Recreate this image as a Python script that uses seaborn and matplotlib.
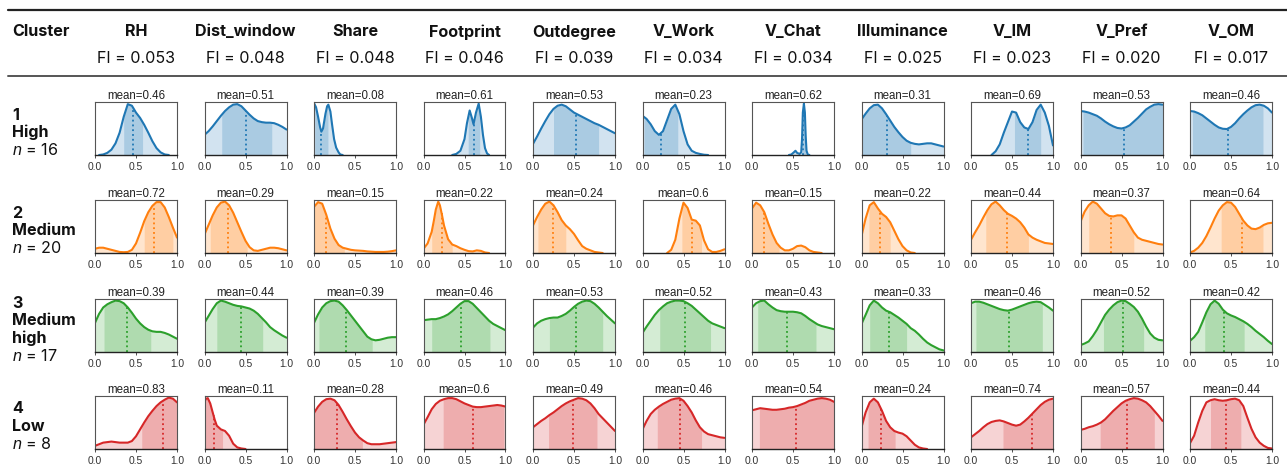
import numpy as np
import pandas as pd
import matplotlib
matplotlib.use("Agg")
import matplotlib.pyplot as plt
from matplotlib.lines import Line2D
import seaborn as sns

# ---------------- data ----------------
VARIABLES = ["RH", "Dist_window", "Share", "Footprint", "Outdegree", "V_Work",
             "V_Chat", "Illuminance", "V_IM", "V_Pref", "V_OM"]
FI = [0.053, 0.048, 0.048, 0.046, 0.039, 0.034, 0.034, 0.025, 0.023, 0.020, 0.017]

CLUSTER_IDS = ["1", "2", "3", "4"]
CLUSTER_NAMES = [["High"], ["Medium"], ["Medium", "high"], ["Low"]]
CLUSTER_N = [16, 20, 17, 8]
COLORS = ["#1f77b4", "#ff7f0e", "#2ca02c", "#d62728"]

# mean value per variable, clusters 1..4
MEANS = {
    "RH": [0.46, 0.72, 0.39, 0.83],
    "Dist_window": [0.51, 0.29, 0.44, 0.11],
    "Share": [0.08, 0.15, 0.39, 0.28],
    "Footprint": [0.61, 0.22, 0.46, 0.6],
    "Outdegree": [0.53, 0.24, 0.53, 0.49],
    "V_Work": [0.23, 0.6, 0.52, 0.46],
    "V_Chat": [0.62, 0.15, 0.43, 0.54],
    "Illuminance": [0.31, 0.22, 0.33, 0.24],
    "V_IM": [0.69, 0.44, 0.46, 0.74],
    "V_Pref": [0.53, 0.37, 0.52, 0.57],
    "V_OM": [0.46, 0.64, 0.42, 0.44],
}

# darker shaded interval (lo, hi) per variable, clusters 1..4
BANDS = {
    "RH": [(0.35, 0.58), (0.60, 0.95), (0.11, 0.68), (0.57, 1.0)],
    "Dist_window": [(0.21, 0.82), (0.07, 0.52), (0.15, 0.71), (0.01, 0.22)],
    "Share": [(0.01, 0.17), (0.0, 0.37), (0.06, 0.71), (0.0, 0.59)],
    "Footprint": [(0.545, 0.685), (0.10, 0.35), (0.10, 0.81), (0.24, 0.98)],
    "Outdegree": [(0.25, 0.80), (0.06, 0.40), (0.20, 0.85), (0.19, 0.78)],
    "V_Work": [(0.02, 0.43), (0.48, 0.72), (0.21, 0.83), (0.18, 0.72)],
    "V_Chat": [(0.61, 0.655), (0.0, 0.33), (0.07, 0.78), (0.09, 1.0)],
    "Illuminance": [(0.0, 0.60), (0.09, 0.35), (0.10, 0.55), (0.08, 0.41)],
    "V_IM": [(0.53, 0.85), (0.18, 0.70), (0.06, 0.87), (0.39, 1.0)],
    "V_Pref": [(0.03, 1.0), (0.10, 0.65), (0.28, 0.77), (0.24, 0.90)],
    "V_OM": [(0.03, 0.89), (0.38, 0.89), (0.18, 0.66), (0.25, 0.62)],
}

# relative density (fraction of panel height) on the grid 0, 0.05, ..., 1.0
GRID = [round(0.05 * k, 2) for k in range(21)]
DENS = {
    "RH": [
        [0, 0, 0.01, 0.04, 0.1, 0.22, 0.42, 0.72, 0.96, 0.93, 0.8, 0.7, 0.57, 0.42, 0.26, 0.13, 0.05, 0.01, 0, 0, 0],
        [0.08, 0.1, 0.1, 0.08, 0.06, 0.04, 0.02, 0.015, 0.02, 0.06, 0.18, 0.38, 0.6, 0.77, 0.89, 0.96, 0.96, 0.86, 0.68, 0.48, 0.29],
        [0.55, 0.72, 0.84, 0.9, 0.94, 0.97, 0.96, 0.92, 0.84, 0.74, 0.63, 0.54, 0.47, 0.42, 0.39, 0.38, 0.38, 0.36, 0.33, 0.29, 0.25],
        [0.06, 0.09, 0.12, 0.13, 0.14, 0.13, 0.12, 0.12, 0.12, 0.15, 0.24, 0.37, 0.5, 0.62, 0.72, 0.81, 0.88, 0.93, 0.97, 0.95, 0.88],
    ],
    "Dist_window": [
        [0.38, 0.45, 0.54, 0.64, 0.74, 0.83, 0.9, 0.95, 0.96, 0.92, 0.84, 0.76, 0.69, 0.64, 0.62, 0.61, 0.61, 0.6, 0.57, 0.53, 0.48],
        [0.35, 0.53, 0.71, 0.86, 0.95, 0.97, 0.9, 0.76, 0.58, 0.4, 0.23, 0.11, 0.05, 0.04, 0.06, 0.08, 0.1, 0.1, 0.09, 0.07, 0.05],
        [0.55, 0.68, 0.81, 0.92, 0.97, 0.95, 0.92, 0.89, 0.87, 0.86, 0.84, 0.82, 0.78, 0.72, 0.64, 0.56, 0.47, 0.41, 0.36, 0.31, 0.27],
        [0.9, 0.95, 0.96, 0.86, 0.69, 0.55, 0.44, 0.37, 0.34, 0.25, 0.1, 0.03, 0.01, 0],
    ],
    "Share": [
        [0.98, 0.9, 0.72, 0.52, 0.44, 0.5, 0.78, 0.92, 0.95, 0.82, 0.58, 0.3, 0.14, 0.05, 0.01, 0],
        [0.87, 0.96, 0.93, 0.72, 0.46, 0.27, 0.15, 0.1, 0.08, 0.06, 0.05, 0.045, 0.04, 0.03, 0.025, 0.02, 0.02, 0.02, 0.025, 0.035, 0.05],
        [0.55, 0.71, 0.84, 0.92, 0.96, 0.97, 0.95, 0.88, 0.79, 0.69, 0.59, 0.49, 0.39, 0.29, 0.24, 0.22, 0.23, 0.25, 0.27, 0.28, 0.28],
        [0.68, 0.8, 0.89, 0.94, 0.95, 0.92, 0.83, 0.7, 0.56, 0.43, 0.31, 0.22, 0.16, 0.11, 0.09, 0.09, 0.09, 0.1, 0.11, 0.12, 0.13],
    ],
    "Footprint": [
        [0, 0.02, 0.08, 0.3, 0.6, 0.84, 0.7, 0.58, 0.8, 0.97, 0.72, 0.38, 0.13, 0.03, 0],
        [0.08, 0.18, 0.4, 0.6, 0.82, 0.97, 0.9, 0.72, 0.52, 0.26, 0.16, 0.13, 0.09, 0.06, 0.035, 0.03, 0.05, 0.04, 0.01, 0],
        [0.6, 0.61, 0.62, 0.62, 0.64, 0.67, 0.71, 0.77, 0.84, 0.91, 0.96, 0.96, 0.91, 0.83, 0.75, 0.67, 0.59, 0.53, 0.49, 0.45, 0.41],
        [0.46, 0.6, 0.75, 0.85, 0.91, 0.94, 0.96, 0.96, 0.94, 0.9, 0.86, 0.83, 0.8, 0.79, 0.79, 0.8, 0.81, 0.82, 0.83, 0.82, 0.8],
    ],
    "Outdegree": [
        [0.21, 0.35, 0.5, 0.64, 0.77, 0.87, 0.93, 0.95, 0.92, 0.86, 0.8, 0.76, 0.72, 0.68, 0.64, 0.6, 0.57, 0.53, 0.49, 0.45, 0.41],
        [0.52, 0.68, 0.82, 0.93, 0.97, 0.9, 0.77, 0.62, 0.52, 0.45, 0.36, 0.24, 0.13, 0.08, 0.05, 0.02, 0.01, 0, 0, 0, 0],
        [0.46, 0.54, 0.59, 0.62, 0.64, 0.65, 0.65, 0.68, 0.72, 0.78, 0.85, 0.91, 0.95, 0.97, 0.96, 0.91, 0.84, 0.76, 0.68, 0.61, 0.54],
        [0.41, 0.47, 0.53, 0.58, 0.64, 0.69, 0.75, 0.81, 0.86, 0.9, 0.93, 0.96, 0.95, 0.92, 0.86, 0.77, 0.66, 0.58, 0.5, 0.42, 0.34],
    ],
    "V_Work": [
        [0.74, 0.68, 0.58, 0.45, 0.38, 0.45, 0.66, 0.87, 0.95, 0.77, 0.45, 0.2, 0.08, 0.04, 0.02, 0.005, 0, 0, 0, 0, 0],
        [0, 0, 0, 0, 0, 0, 0, 0.06, 0.25, 0.65, 0.95, 0.85, 0.63, 0.61, 0.52, 0.24, 0.07, 0.02, 0.02, 0.04, 0.07],
        [0.36, 0.48, 0.59, 0.7, 0.79, 0.86, 0.92, 0.95, 0.97, 0.97, 0.96, 0.92, 0.87, 0.8, 0.73, 0.66, 0.59, 0.54, 0.51, 0.48, 0.45],
        [0.37, 0.53, 0.66, 0.74, 0.8, 0.85, 0.89, 0.93, 0.95, 0.96, 0.91, 0.81, 0.69, 0.54, 0.41, 0.33, 0.28, 0.26, 0.24, 0.22, 0.21],
    ],
    "V_Chat": [
        [0, 0.01, 0.05, 0.08, 0.04, 0.02, 0.05, 0.3, 0.8, 0.97, 0.8, 0.35, 0.08, 0.01, 0],
        [0.84, 0.95, 0.9, 0.77, 0.55, 0.35, 0.19, 0.1, 0.05, 0.05, 0.08, 0.13, 0.14, 0.11, 0.05, 0.02, 0.01, 0, 0, 0, 0],
        [0.84, 0.92, 0.96, 0.97, 0.9, 0.84, 0.79, 0.77, 0.76, 0.76, 0.76, 0.75, 0.73, 0.68, 0.62, 0.57, 0.52, 0.49, 0.47, 0.45, 0.43],
        [0.73, 0.75, 0.77, 0.76, 0.75, 0.74, 0.74, 0.75, 0.76, 0.78, 0.79, 0.81, 0.84, 0.87, 0.91, 0.93, 0.95, 0.96, 0.95, 0.93, 0.89],
    ],
    "Illuminance": [
        [0.67, 0.78, 0.88, 0.94, 0.95, 0.88, 0.77, 0.65, 0.53, 0.43, 0.34, 0.27, 0.23, 0.21, 0.2, 0.21, 0.22, 0.22, 0.2, 0.18, 0.16],
        [0.32, 0.65, 0.9, 0.96, 0.84, 0.74, 0.68, 0.58, 0.42, 0.26, 0.13, 0.05, 0.01, 0, 0, 0, 0, 0, 0, 0, 0],
        [0.53, 0.7, 0.88, 0.97, 0.92, 0.84, 0.78, 0.75, 0.7, 0.65, 0.59, 0.53, 0.45, 0.4, 0.33, 0.25, 0.18, 0.13, 0.09, 0.05, 0.03],
        [0.41, 0.69, 0.88, 0.95, 0.88, 0.72, 0.53, 0.41, 0.34, 0.31, 0.29, 0.24, 0.16, 0.08, 0.03, 0.01, 0, 0, 0, 0, 0],
    ],
    "V_IM": [
        [0, 0, 0, 0, 0, 0, 0.07, 0.2, 0.42, 0.62, 0.82, 0.8, 0.62, 0.52, 0.49, 0.62, 0.85, 0.95, 0.8, 0.55, 0.18],
        [0.25, 0.39, 0.52, 0.67, 0.81, 0.92, 0.97, 0.9, 0.81, 0.74, 0.7, 0.65, 0.58, 0.48, 0.35, 0.29, 0.25, 0.22, 0.19, 0.18, 0.17],
        [0.92, 0.95, 0.95, 0.93, 0.9, 0.87, 0.84, 0.81, 0.79, 0.78, 0.8, 0.83, 0.86, 0.89, 0.92, 0.94, 0.95, 0.94, 0.89, 0.84, 0.78],
        [0.22, 0.28, 0.34, 0.41, 0.47, 0.51, 0.53, 0.54, 0.52, 0.49, 0.46, 0.44, 0.46, 0.52, 0.59, 0.67, 0.75, 0.83, 0.89, 0.93, 0.95],
    ],
    "V_Pref": [
        [0.83, 0.82, 0.8, 0.77, 0.74, 0.69, 0.63, 0.58, 0.54, 0.51, 0.5, 0.52, 0.56, 0.63, 0.7, 0.78, 0.86, 0.91, 0.95, 0.96, 0.95],
        [0.59, 0.78, 0.9, 0.97, 0.93, 0.84, 0.75, 0.7, 0.69, 0.71, 0.71, 0.65, 0.52, 0.39, 0.29, 0.25, 0.23, 0.21, 0.19, 0.17, 0.16],
        [0.13, 0.16, 0.2, 0.3, 0.42, 0.56, 0.7, 0.8, 0.88, 0.94, 0.97, 0.96, 0.91, 0.85, 0.76, 0.63, 0.48, 0.35, 0.27, 0.23, 0.22],
        [0.36, 0.38, 0.41, 0.43, 0.46, 0.5, 0.56, 0.64, 0.72, 0.79, 0.86, 0.91, 0.94, 0.96, 0.95, 0.92, 0.88, 0.81, 0.72, 0.63, 0.53],
    ],
    "V_OM": [
        [0.83, 0.82, 0.79, 0.75, 0.69, 0.63, 0.57, 0.52, 0.495, 0.49, 0.53, 0.6, 0.69, 0.77, 0.84, 0.9, 0.94, 0.95, 0.93, 0.88, 0.8],
        [0.01, 0.04, 0.1, 0.19, 0.32, 0.48, 0.65, 0.8, 0.9, 0.96, 0.95, 0.87, 0.74, 0.61, 0.52, 0.46, 0.45, 0.48, 0.53, 0.56, 0.57],
        [0.21, 0.28, 0.38, 0.56, 0.75, 0.9, 0.97, 0.91, 0.8, 0.73, 0.69, 0.66, 0.62, 0.58, 0.53, 0.47, 0.4, 0.34, 0.28, 0.21, 0.15],
        [0.11, 0.25, 0.5, 0.72, 0.88, 0.92, 0.94, 0.92, 0.91, 0.92, 0.94, 0.95, 0.92, 0.81, 0.59, 0.38, 0.22, 0.12, 0.06, 0.02, 0.01],
    ],
}

# panels whose curve is sampled on its own x positions (narrow peaks)
XS = {
    ("Share", 0): [0, 0.025, 0.05, 0.075, 0.09, 0.11, 0.14, 0.16, 0.175, 0.2, 0.22, 0.245, 0.27, 0.3, 0.32, 0.35],
    ("Footprint", 0): [0.35, 0.4, 0.45, 0.5, 0.53, 0.563, 0.59, 0.61, 0.64, 0.673, 0.7, 0.725, 0.75, 0.775, 0.8],
    ("Footprint", 1): [0, 0.05, 0.1, 0.125, 0.15, 0.18, 0.2, 0.225, 0.25, 0.3, 0.35, 0.4, 0.45, 0.5, 0.55, 0.6, 0.65, 0.7, 0.75, 0.8],
    ("V_Chat", 0): [0.45, 0.48, 0.51, 0.53, 0.55, 0.58, 0.6, 0.61, 0.62, 0.633, 0.645, 0.655, 0.665, 0.68, 0.7],
    ("Dist_window", 3): [0, 0.02, 0.04, 0.07, 0.1, 0.125, 0.15, 0.2, 0.25, 0.3, 0.35, 0.4, 0.45, 0.5],
}

# ---------------- figure ----------------
sns.set_theme(style="white")
plt.rcParams["font.family"] = ["Inter", "DejaVu Sans"]
plt.rcParams["mathtext.fontset"] = "custom"
plt.rcParams["mathtext.it"] = "Liberation Sans:italic"
plt.rcParams["mathtext.rm"] = "Inter"

W, H = 1287, 477
fig = plt.figure(figsize=(W / 100, H / 100), dpi=100)
fig.patch.set_facecolor("white")

def fx(px):
    return px / W

def fy(py):
    return 1 - py / H

PANEL_W, PANEL_H = 82, 53
COL_LEFT0, COL_STEP = 95, 109.5
ROW_TOPS = [103, 201, 300, 397]
HEAD_FS = 11.6

# header rules
fig.add_artist(Line2D([fx(8), 1.0], [fy(11), fy(11)], color="#222222", lw=1.6))
fig.add_artist(Line2D([fx(8), 1.0], [fy(77), fy(77)], color="#555555", lw=1.4))

fig.text(fx(12), fy(32), "Cluster", fontsize=HEAD_FS, fontweight="bold", ha="left", va="center", color="#111111")
for j, (var, fi) in enumerate(zip(VARIABLES, FI)):
    cx = COL_LEFT0 + COL_STEP * j + PANEL_W / 2
    fig.text(fx(cx), fy(32), var, fontsize=HEAD_FS, fontweight="bold", ha="center", va="center", color="#111111")
    fig.text(fx(cx), fy(58.5), f"FI = {fi:.3f}", fontsize=HEAD_FS, ha="center", va="center", color="#111111")

# row labels
LINE_STEP = 17.5
for i in range(4):
    lines = [(CLUSTER_IDS[i], "bold")] + [(t, "bold") for t in CLUSTER_NAMES[i]] + \
            [(f"$n$ = {CLUSTER_N[i]}", "normal")]
    centre = ROW_TOPS[i] + PANEL_H / 2 + 3
    y0 = centre - LINE_STEP * (len(lines) - 1) / 2
    for k, (txt, wt) in enumerate(lines):
        fig.text(fx(12), fy(y0 + LINE_STEP * k), txt, fontsize=HEAD_FS, fontweight=wt,
                 ha="left", va="center", color="#111111")

# panels
for i in range(4):
    color = COLORS[i]
    for j, var in enumerate(VARIABLES):
        left = COL_LEFT0 + COL_STEP * j
        top = ROW_TOPS[i]
        ax = fig.add_axes([fx(left), fy(top + PANEL_H), PANEL_W / W, PANEL_H / H])
        x = np.array(XS.get((var, i), GRID), dtype=float)
        y = np.array(DENS[var][i], dtype=float)

        ax.fill_between(x, 0, y, color=color, alpha=0.2, lw=0)
        lo, hi = BANDS[var][i]
        inside = (x > lo) & (x < hi)
        xb = np.concatenate([[lo], x[inside], [hi]])
        yb = np.interp(xb, x, y)
        ax.fill_between(xb, 0, yb, color=color, alpha=0.22, lw=0)

        nz = np.nonzero(y > 0)[0]
        s, e = max(nz[0] - 1, 0), min(nz[-1] + 1, len(y) - 1)
        df = pd.DataFrame({"x": x[s:e + 1], "y": y[s:e + 1]})
        sns.lineplot(data=df, x="x", y="y", ax=ax, color=color, lw=1.5, sort=False)

        m = MEANS[var][i]
        ax.plot([m, m], [0, np.interp(m, x, y)], ls=":", color=color, lw=1.3)

        ax.set_xlim(0, 1)
        ax.set_ylim(0, 1)
        ax.set_xlabel("")
        ax.set_ylabel("")
        ax.set_yticks([])
        ax.set_xticks([0, 0.5, 1.0])
        ax.set_xticklabels(["0.0", "0.5", "1.0"], fontfamily="Liberation Sans")
        ax.tick_params(axis="x", bottom=True, length=2.5, width=0.6, pad=1.8,
                       labelsize=7.4, colors="#333333")
        for sp in ax.spines.values():
            sp.set_color("#555555")
            sp.set_linewidth(0.8)
        ax.spines["bottom"].set_color("#222222")
        ax.spines["bottom"].set_linewidth(1.0)
        ax.set_title(f"mean={m:g}", fontsize=8.3, pad=3, fontfamily="Liberation Sans", color="#222222")
        ax.set_facecolor("white")

fig.savefig("out.png", dpi=100, facecolor="white")
